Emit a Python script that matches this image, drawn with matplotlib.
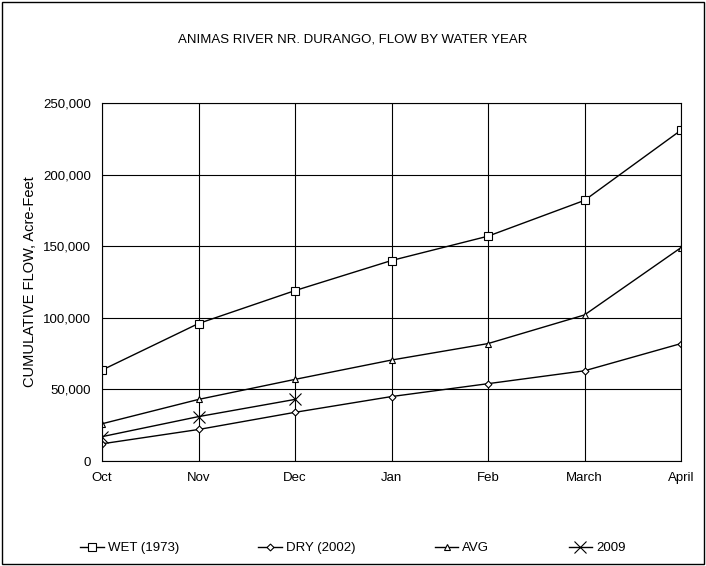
import matplotlib
matplotlib.use("Agg")
import matplotlib.pyplot as plt
from matplotlib.ticker import FuncFormatter

plt.rcParams['font.family'] = ['Liberation Sans', 'DejaVu Sans']

months = ["Oct", "Nov", "Dec", "Jan", "Feb", "March", "April"]
wet = [63500, 96000, 119000, 140000, 157000, 182000, 231000]
dry = [12000, 22000, 34000, 45000, 54000, 63000, 82000]
avg = [26000, 43000, 57000, 70500, 82000, 102000, 149000]
y2009 = [17000, 31000, 43000]

fig = plt.figure(figsize=(7.06, 5.66), dpi=100)
fig.patches.append(plt.Rectangle((0.003, 0.003), 0.994, 0.994, transform=fig.transFigure,
                                 fill=False, edgecolor='black', linewidth=1))
ax = fig.add_axes([102/706, 1-461/566, (681-102)/706, (461-103)/566])
x = list(range(len(months)))
kw = dict(color='black', linewidth=1, markerfacecolor='white', markeredgecolor='black', markeredgewidth=0.8)
ax.plot(x, wet, marker='s', markersize=5.5, label='WET (1973)', **kw)
ax.plot(x, dry, marker='D', markersize=3.5, label='DRY (2002)', **kw)
ax.plot(x, avg, marker='^', markersize=4.5, label='AVG', **kw)
ax.plot(x[:3], y2009, marker='x', markersize=9, label='2009', **kw)

ax.set_xlim(0, 6)
ax.set_ylim(0, 250000)
ax.set_xticks(x)
ax.set_xticklabels(months)
ax.set_yticks(range(0, 250001, 50000))
ax.yaxis.set_major_formatter(FuncFormatter(lambda v, p: f"{int(v):,}"))
ax.grid(True, color='black', linewidth=0.8)
ax.tick_params(labelsize=9.5, length=0, pad=8)
for s in ax.spines.values():
    s.set_linewidth(0.8)
ax.set_ylabel("CUMULATIVE FLOW, Acre-Feet", fontsize=10.5)
fig.text(0.5, 1-40/566, "ANIMAS RIVER NR. DURANGO, FLOW BY WATER YEAR", ha='center', va='center', fontsize=9.5)
fig.legend(loc='center', bbox_to_anchor=(0.5, 1-548/566), ncol=4, frameon=False, fontsize=9.5,
           handlelength=1.8, handletextpad=0.3, columnspacing=6)
fig.savefig("out.png", dpi=100)
